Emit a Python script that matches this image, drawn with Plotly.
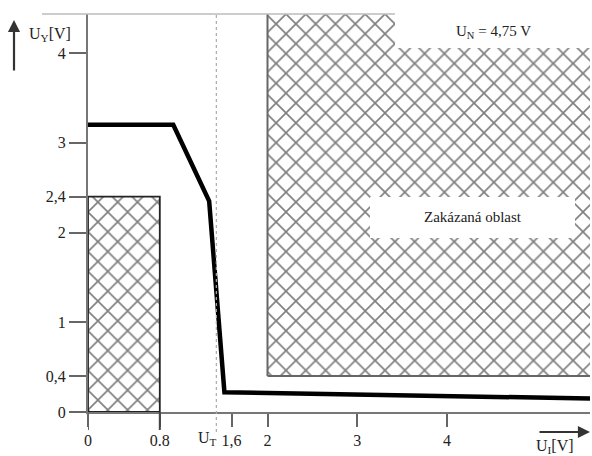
import plotly.graph_objects as go

# Transfer characteristic of a logic gate: output voltage vs. input voltage
u_in = [0.0, 0.95, 1.35, 1.52, 5.6]
u_out = [3.2, 3.2, 2.35, 0.22, 0.15]

# Forbidden regions (input, output ranges)
low_in_x = [0.0, 0.0, 0.8, 0.8, 0.0]
low_in_y = [0.0, 2.4, 2.4, 0.0, 0.0]
high_x = [2.0, 2.0, 5.8, 5.8, 2.0]
high_y = [0.4, 4.6, 4.6, 0.4, 0.4]

u_threshold = 1.43

x_ticks = [0, 0.8, 1.6, 2, 3, 4]
x_labels = ["0", "0.8", "1,6", "2", "3", "4"]
y_ticks = [0, 0.4, 1, 2, 2.4, 3, 4]
y_labels = ["0", "0,4", "1", "2", "2,4", "3", "4"]

W, H = 592, 456
L, R, T, B = 88, 2, 14, 44
pw, ph = W - L - R, H - T - B
scale = 89.75  # pixels per volt on both axes

def px(x):
    return (x - L) / pw

def py(y):
    return ((H - B) - y) / ph

font = dict(family="Liberation Serif", size=16, color="#222")
font_s = dict(family="Liberation Serif", size=15, color="#222")
hatch = dict(shape="x", size=14, solidity=0.22, fgcolor="#000", bgcolor="white")

fig = go.Figure()
fig.add_trace(go.Scatter(x=low_in_x, y=low_in_y, mode="lines", fill="toself",
                         fillcolor="white", fillpattern=hatch,
                         line=dict(color="#222", width=1.8), hoverinfo="skip"))
fig.add_trace(go.Scatter(x=high_x, y=high_y, mode="lines", fill="toself",
                         fillcolor="white", fillpattern=hatch,
                         line=dict(color="#666", width=2), hoverinfo="skip"))
fig.add_trace(go.Scatter(x=u_in, y=u_out, mode="lines",
                         line=dict(color="black", width=4.5), hoverinfo="skip"))

shapes = [
    # threshold marker
    dict(type="line", xref="x", yref="paper", x0=u_threshold, x1=u_threshold,
         y0=py(432), y1=1.0, line=dict(color="#aaa", width=1.2, dash="dot")),
    # longer ticks below the axis at 0 and 0.8
    dict(type="line", xref="x", yref="paper", x0=0, x1=0, y0=0, y1=py(430),
         line=dict(color="#666", width=2)),
    dict(type="line", xref="x", yref="paper", x0=0.8, x1=0.8, y0=0, y1=py(430),
         line=dict(color="#444", width=2)),
    # top border line
    dict(type="line", xref="paper", yref="paper", x0=px(42), x1=px(395),
         y0=1.0, y1=1.0, line=dict(color="#bbb", width=1.5)),
    # label boxes over the hatch
    dict(type="rect", xref="paper", yref="paper", x0=px(395), x1=1.02,
         y0=py(48), y1=1.04, fillcolor="white", line=dict(width=0)),
    dict(type="rect", xref="x", yref="y", x0=(370 - L) / scale, x1=(575 - L) / scale,
         y0=(412 - 238) / scale, y1=(412 - 197) / scale,
         fillcolor="white", line=dict(width=0)),
]

def label(x, y, text, f):
    return dict(xref="paper", yref="paper", x=px(x), y=py(y), showarrow=False,
                xanchor="center", yanchor="middle", text=text, font=f)

annotations = [
    dict(xref="paper", yref="paper", x=px(14), y=py(20), ax=0, ay=52,
         showarrow=True, arrowhead=2, arrowsize=1.1, arrowwidth=2.2,
         arrowcolor="#333", text=""),
    dict(xref="paper", yref="paper", x=px(590), y=py(432), ax=-52, ay=0,
         showarrow=True, arrowhead=2, arrowsize=1.1, arrowwidth=2.2,
         arrowcolor="#333", text=""),
    label(50, 34, "U<sub>Y</sub>[V]", font),
    label(555, 446, "U<sub>I</sub>[V]", font),
    label(207, 439, "U<sub>T</sub>", font),
    label(493, 32, "U<sub>N</sub> = 4,75 V", font_s),
    label(473, 217, "Zakázaná oblast", font_s),
]

fig.update_layout(
    width=W, height=H,
    margin=dict(l=L, r=R, t=T, b=B),
    paper_bgcolor="white", plot_bgcolor="white",
    showlegend=False,
    shapes=shapes, annotations=annotations,
    xaxis=dict(range=[0, pw / scale], tickvals=x_ticks, ticktext=x_labels,
               ticks="outside", ticklen=13, tickwidth=2, tickcolor="#666",
               showline=True, linecolor="#777", linewidth=2,
               showgrid=False, zeroline=False, tickfont=font, fixedrange=True),
    yaxis=dict(range=[0, ph / scale], tickvals=y_ticks, ticktext=y_labels,
               ticks="outside", ticklen=17, tickwidth=2, tickcolor="#666",
               showline=True, linecolor="#777", linewidth=2,
               showgrid=False, zeroline=False, tickfont=font, fixedrange=True),
)

fig.write_html("out.html")
